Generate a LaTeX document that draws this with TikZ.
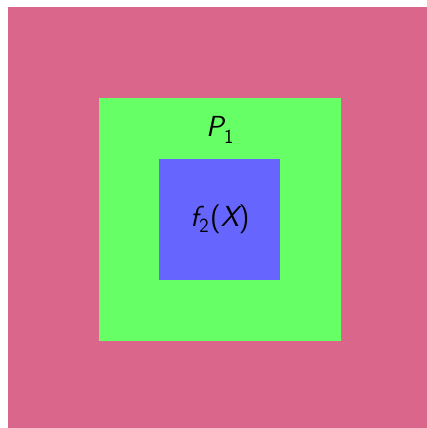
\documentclass[tikz,border=0pt]{standalone}
\usepackage{fontspec}
\setsansfont{Latin Modern Sans}
\definecolor{outerpink}{RGB}{218,102,139}
\definecolor{midgreen}{RGB}{102,255,102}
\definecolor{innerblue}{RGB}{102,102,255}
\newcommand{\sfsub}[1]{\kern0.5pt\raisebox{-0.22em}{\fontsize{20}{22}\selectfont #1}\kern0.5pt}
\begin{document}
\begin{tikzpicture}[x=1pt,y=1pt,
  lbl/.style={font=\sffamily\fontsize{29}{33}\selectfont, text=black, inner sep=0pt}]
\useasboundingbox (0,0) rectangle (427,428);
\fill[outerpink] (8,0) rectangle (427,421);
\fill[midgreen] (99,87) rectangle (341,330);
\fill[innerblue] (159,148) rectangle (280,269);
\node[lbl] (p1) at (220,298) {\itshape P\upshape\sfsub{1}};
\node[lbl] (f2) at (220,209) {\itshape f\upshape\sfsub{2}\kern1pt(\itshape X\upshape)};
\end{tikzpicture}
\end{document}
